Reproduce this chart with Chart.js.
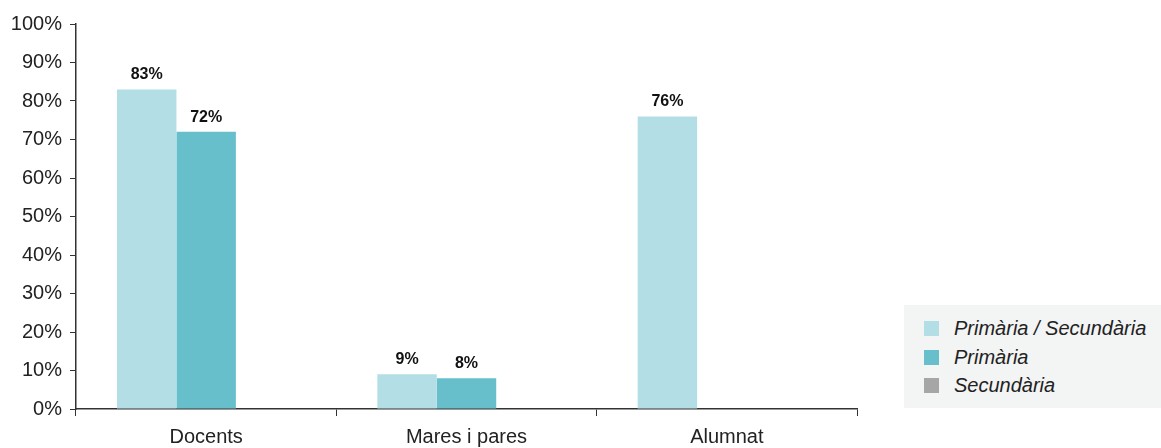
<!DOCTYPE html>
<html>
<head>
<meta charset="utf-8">
<script src="https://cdn.jsdelivr.net/npm/chart.js@4"></script>
<style>
  html, body { margin: 0; padding: 0; background: #fff; }
  #wrap { position: relative; width: 1161px; height: 448px; }
  #legend {
    position: absolute; left: 904px; top: 305px; width: 257px; height: 103px;
    background: #f3f4f4; box-sizing: border-box; padding-top: 9px;
    font-family: "Liberation Sans", Arial, sans-serif; font-style: italic; font-size: 20px; color: #222;
  }
  #legend .item { position: relative; height: 28.5px; line-height: 28.5px; padding-left: 50px; }
  #legend .box { position: absolute; left: 20px; top: 7px; width: 15px; height: 15px; }
</style>
</head>
<body>
<div id="wrap">
  <canvas id="myBarChart" width="1161" height="448"></canvas>
  <div id="legend"></div>
</div>
<script>
// Categories and series
const categories = ["Docents", "Mares i pares", "Alumnat"];
const seriesNames = ["Primària / Secundària", "Primària", "Secundària"];
const primSecValues = [83, 9, 76];
const primValues = [72, 8, null];
const secValues = [null, null, null];
const seriesColors = ["#b3dee5", "#67bfcb", "#a6a6a6"];
const yTicks = [0, 10, 20, 30, 40, 50, 60, 70, 80, 90, 100];

const FONT = '"Liberation Sans", Arial, sans-serif';

// Value labels above bars
const barLabels = {
    id: 'barLabels',
    afterDatasetsDraw(chart) {
        const ctx = chart.ctx;
        ctx.save();
        ctx.font = 'bold 16px ' + FONT;
        ctx.fillStyle = '#111';
        ctx.textAlign = 'center';
        ctx.textBaseline = 'alphabetic';
        chart.data.datasets.forEach((ds, i) => {
            chart.getDatasetMeta(i).data.forEach((bar, j) => {
                const v = ds.data[j];
                if (v == null) return;
                ctx.fillText(v + '%', bar.x, bar.y - 10);
            });
        });
        ctx.restore();
    }
};

var ctx = document.getElementById("myBarChart");
var myBarChart = new Chart(ctx, {
    type: 'bar',
    data: {
        labels: categories,
        datasets: [
            { label: seriesNames[0], data: primSecValues, backgroundColor: seriesColors[0] },
            { label: seriesNames[1], data: primValues, backgroundColor: seriesColors[1] },
            { label: seriesNames[2], data: secValues, backgroundColor: seriesColors[2] }
        ]
    },
    options: {
        responsive: false,
        animation: false,
        layout: {
            padding: { top: 24, right: 304, left: 0, bottom: 0 }
        },
        datasets: {
            bar: {
                barPercentage: 1,
                categoryPercentage: 0.685
            }
        },
        scales: {
            x: {
                grid: {
                    drawOnChartArea: false,
                    tickLength: 7,
                    tickColor: '#333',
                    offset: true
                },
                border: { color: '#333', width: 1.5 },
                ticks: {
                    color: '#222',
                    padding: 9,
                    font: { family: FONT, size: 20 }
                },
                afterFit(scale) { scale.height = 39; }
            },
            y: {
                min: 0,
                max: 100,
                afterBuildTicks(scale) {
                    scale.ticks = yTicks.map(v => ({ value: v }));
                },
                grid: {
                    drawOnChartArea: false,
                    tickLength: 6,
                    tickColor: '#333'
                },
                border: { color: '#333', width: 1.5 },
                ticks: {
                    color: '#222',
                    padding: 8,
                    font: { family: FONT, size: 20 },
                    callback: function (value) { return value + '%'; }
                },
                afterFit(scale) { scale.width = 76; }
            }
        },
        plugins: {
            legend: { display: false },
            tooltip: { enabled: false }
        }
    },
    plugins: [barLabels]
});

// Legend
const legendEl = document.getElementById('legend');
seriesNames.forEach((name, i) => {
    const item = document.createElement('div');
    item.className = 'item';
    const box = document.createElement('span');
    box.className = 'box';
    box.style.background = seriesColors[i];
    item.appendChild(box);
    item.appendChild(document.createTextNode(name));
    legendEl.appendChild(item);
});
</script>
</body>
</html>
